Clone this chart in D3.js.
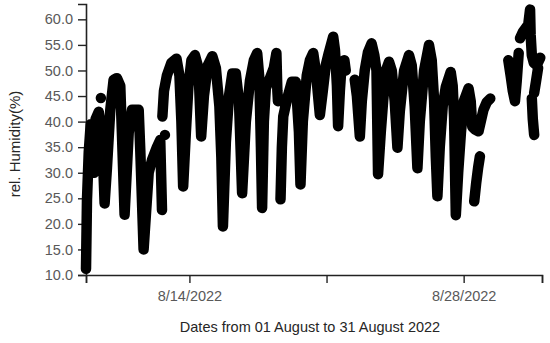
<!DOCTYPE html>
<html>
<head>
<meta charset="utf-8">
<script src="https://cdn.jsdelivr.net/npm/d3@7"></script>
<style>
    body { margin: 0; background: #fff; }
    .chartDiv { width: 550px; height: 343px; }
    text { font-family: "Liberation Sans", Arial, sans-serif; }
</style>
</head>
<body>
<div class="chartDiv"></div>
<script>
// #region Data
// day of August 2022 (decimal, 14.5 = 8/14 12:00), null = gap in the record
let dayOfAugust = [
    8.72, 8.77, 8.86, 8.96, 9.06, 9.13, 9.21, 9.37, 9.54, 9.67, 9.79, 9.96, 10.13, 10.30, 10.47, 10.56, 10.69,
    10.90, 11.07, 11.41, 11.49, 11.66, 11.92, 12.09, 12.34, 12.51, 12.60, null,
    9.48, null,
    12.75, null,
    12.62, 12.70, 12.85, 13.08, 13.34, 13.49, 13.59, 13.68, 13.82, 13.95, 14.10, 14.28, 14.46, 14.60,
    14.74, 14.94, 15.17, 15.35, 15.53, 15.63, 15.71, 15.86, 16.02, 16.19, 16.37, 16.53, 16.69, 16.88,
    17.09, 17.29, 17.46, 17.57, 17.65, 17.71, 17.80, 17.90, 18.11, 18.31, 18.44, 18.49, 18.52, null,
    18.65, 18.72, 18.79, 18.99, 19.23, 19.43, 19.59, 19.67, 19.79, 19.99, 20.15, 20.32, 20.45, 20.66,
    20.81, 20.96, 21.12, 21.34, 21.43, 21.53, 21.59, 21.68, 21.78, 21.91, 21.98, null,
    22.44, 22.55, 22.70, 22.80, 22.95, 23.11, 23.30, 23.44, 23.55, 23.63, 23.77, 23.89, 24.03, 24.19,
    24.33, 24.48, 24.62, 24.74, 24.96, 25.21, 25.35, 25.50, 25.64, 25.76, 25.98, 26.23, 26.37, 26.49,
    26.58, 26.66, 26.78, 26.93, 27.09, 27.34, 27.44, 27.51, 27.60, 27.72, 27.86, 28.01, 28.25, 28.36,
    28.44, 28.57, 28.76, 29.01, 29.18, 29.36, null,
    28.54, 28.64, 28.74, 28.83, null,
    30.28, 30.40, 30.51, 30.62, 30.71, 30.81, null,
    30.88, 31.02, 31.17, 31.30, 31.39, 31.42, 31.48, 31.58, 31.73, 31.91, null,
    31.60, 31.70, 31.80, null,
    31.48, 31.53, 31.60
];
let humidity = [
    11.2, 24.7, 34.0, 39.5, 36.0, 30.0, 40.5, 41.9, 37.8, 24.0, 31.0, 42.3, 48.2, 48.5, 47.0, 37.0, 21.8,
    37.8, 42.3, 42.3, 34.5, 15.0, 30.0, 32.5, 35.0, 36.4, 22.7, null,
    44.6, null,
    37.4, null,
    41.0, 46.0, 49.0, 51.5, 52.3, 49.0, 40.0, 27.3, 38.0, 47.0, 52.0, 53.0, 50.5, 37.1,
    45.0, 51.0, 52.8, 50.5, 43.0, 33.0, 19.5, 36.0, 45.0, 49.4, 49.4, 44.0, 26.0, 40.0,
    48.0, 52.0, 53.4, 48.5, 35.0, 23.1, 40.0, 46.5, 48.5, 50.5, 53.4, 46.0, 44.0, null,
    24.8, 35.0, 41.0, 44.5, 47.8, 47.8, 38.0, 27.7, 40.0, 49.0, 52.0, 53.4, 50.0, 41.3,
    46.0, 51.0, 53.5, 56.6, 54.0, 47.0, 39.1, 46.0, 51.7, 52.0, 50.0, null,
    48.2, 45.0, 37.1, 44.0, 50.0, 53.5, 55.3, 53.0, 50.0, 29.7, 38.0, 44.0, 50.0, 51.7,
    50.0, 44.0, 34.9, 42.0, 50.0, 53.0, 51.0, 43.0, 30.9, 40.0, 50.0, 55.0, 52.0, 44.2,
    33.0, 25.4, 35.0, 43.0, 46.8, 49.7, 47.0, 41.0, 21.7, 30.0, 37.8, 44.0, 46.5, 44.0,
    39.0, 38.5, 38.1, 42.3, 43.8, 44.5, null,
    24.4, 28.0, 31.0, 33.2, null,
    52.0, 49.0, 46.0, 44.0, 48.0, 53.4, null,
    56.3, 57.5, 58.3, 59.0, 61.9, 57.0, 53.0, 51.5, 51.0, 52.5, null,
    45.6, 48.0, 50.5, null,
    44.5, 40.5, 37.4
];
let yTickValues = [10, 15, 20, 25, 30, 35, 40, 45, 50, 55, 60];
let xTickDays = [8.72, 14, 21, 28, 32];
let xLabelDays = [14, 28];
let yScaleTitle = 'rel. Humidity(%)';
let xScaleTitle = 'Dates from 01 August to 31 August 2022';
// #endregion

function dayToDate(day) {
    return new Date(2022, 7, 1, 0, 0).getTime() + (day - 1) * 86400000;
}

function DrawScatterChart({ divClassName, width, height, days, values }) {
    let result = {};
    // #region Main SVG
    let svg = d3.select('.' + divClassName)
        .append('svg')
        .attr('width', width)
        .attr('height', height);
    result.SVG = svg;
    // #endregion

    // #region XScale && YScale
    let xScale = d3.scaleTime()
        .domain([dayToDate(8.72), dayToDate(32)])
        .range([86, 542]);
    let yScale = d3.scaleLinear()
        .domain([10, 63])
        .range([275, 4]);

    let fmt = d3.timeFormat('%-m/%-d/%Y');
    let gXScale = svg.append('g')
        .attr('class', 'xScale')
        .attr('transform', 'translate(0,' + 275 + ')')
        .call(d3.axisBottom(xScale)
            .tickValues(xTickDays.map(dayToDate).map(t => new Date(t)))
            .tickSize(8)
            .tickPadding(6)
            .tickFormat((d, i) => xLabelDays.indexOf(xTickDays[i]) >= 0 ? fmt(d) : ''));

    let gYScale = svg.append('g')
        .attr('class', 'yScale')
        .attr('transform', 'translate(86,0)')
        .call(d3.axisLeft(yScale)
            .tickValues(yTickValues)
            .tickSize(8)
            .tickPadding(5)
            .tickFormat(d3.format('.1f')));

    [gXScale, gYScale].forEach(g => {
        g.select('.domain').attr('stroke', '#222').attr('stroke-width', 1.6);
        g.selectAll('.tick line').attr('stroke', '#222').attr('stroke-width', 1.4);
        g.selectAll('.tick text')
            .attr('fill', '#595959')
            .attr('font-size', '14.5px')
            .attr('font-family', '"Liberation Sans", Arial, sans-serif');
    });
    gXScale.selectAll('.tick text').attr('dy', '0.85em');
    result.gXScale = gXScale;
    result.gYScale = gYScale;

    svg.append('text')
        .attr('class', 'xScaleTitle')
        .attr('x', 310)
        .attr('y', 332)
        .attr('text-anchor', 'middle')
        .attr('font-size', '14.5px')
        .attr('fill', '#262626')
        .text(xScaleTitle);

    svg.append('text')
        .attr('class', 'yScaleTitle')
        .attr('transform', 'translate(20,' + 144 + ') rotate(-90)')
        .attr('text-anchor', 'middle')
        .attr('font-size', '15px')
        .attr('fill', '#262626')
        .text(yScaleTitle);
    // #endregion

    // #region Draw Points
    let dataSet = days.map((d, i) => ({ day: d, value: values[i] }));
    let line = d3.line()
        .defined(d => d.value != null)
        .x(d => xScale(dayToDate(d.day)))
        .y(d => yScale(d.value));

    // dense readings overlap into a thick trace
    svg.append('path')
        .datum(dataSet)
        .attr('class', 'trace')
        .attr('d', line)
        .attr('fill', 'none')
        .attr('stroke', '#000')
        .attr('stroke-width', 10.5)
        .attr('stroke-linejoin', 'round')
        .attr('stroke-linecap', 'round');

    svg.append('g')
        .attr('class', 'points')
        .selectAll('circle')
        .data(dataSet.filter(d => d.value != null))
        .enter()
        .append('circle')
        .attr('cx', d => xScale(dayToDate(d.day)))
        .attr('cy', d => yScale(d.value))
        .attr('r', 4)
        .attr('fill', '#000');
    // #endregion
    return result;
}

DrawScatterChart({
    divClassName: 'chartDiv',
    width: 550,
    height: 343,
    days: dayOfAugust,
    values: humidity
});
</script>
</body>
</html>
